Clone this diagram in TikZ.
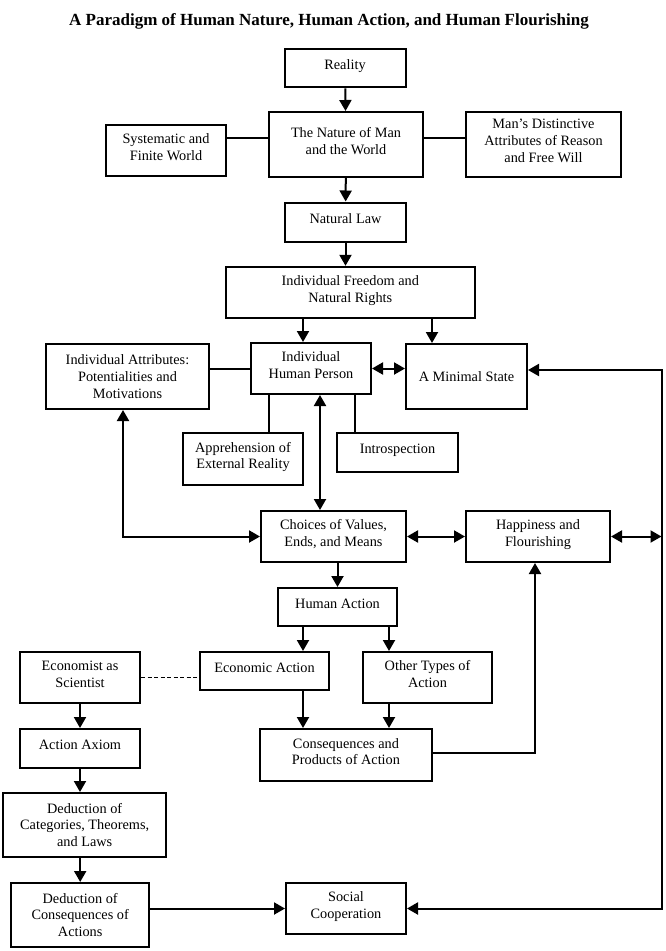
\documentclass[tikz,border=0pt]{standalone}
\usepackage{fontspec}
\setmainfont{Liberation Serif}
\usetikzlibrary{arrows.meta}
\begin{document}
\begin{tikzpicture}[x=1pt,y=-1pt,
  box/.style={draw, line width=2pt, align=center, inner sep=2pt,
    font=\fontsize{14.3}{16.8}\selectfont, text depth=7pt},
  cbox/.style={box, text depth=},
  conn/.style={line width=2pt},
  arr/.style={conn, -{Triangle[length=11pt,width=12pt]}},
  darr/.style={conn, {Triangle[length=11pt,width=12pt]}-{Triangle[length=11pt,width=12pt]}},
  dashline/.style={line width=1.6pt, dash pattern=on 4pt off 2.5pt}]
\useasboundingbox (0,0) rectangle (665,951);

\node[font=\fontsize{17}{20}\selectfont\bfseries] (title) at (329,21) {A Paradigm of Human Nature, Human Action, and Human Flourishing};

\node[box, minimum width=121pt, minimum height=38pt] (reality) at (345,68.3) {Reality};
\node[box, minimum width=154pt, minimum height=65pt] (nature) at (346,144.5) {The Nature of Man\\and the World};
\node[box, minimum width=120pt, minimum height=51pt] (sysworld) at (166,150.5) {Systematic and\\Finite World};
\node[box, minimum width=155pt, minimum height=65pt] (attrs) at (543.5,144.5) {Man’s Distinctive\\Attributes of Reason\\and Free Will};
\node[box, minimum width=121pt, minimum height=39pt] (natlaw) at (345.5,222) {Natural Law};
\node[box, minimum width=249.5pt, minimum height=51pt] (freedom) at (350.3,292.3) {Individual Freedom and\\Natural Rights};
\node[cbox, minimum width=163pt, minimum height=65pt] (indattr) at (127.5,376.5) {Individual Attributes:\\Potentialities and\\Motivations};
\node[box, minimum width=120pt, minimum height=51pt] (person) at (311,368.5) {Individual\\Human Person};
\node[cbox, minimum width=121pt, minimum height=65pt] (minstate) at (466.5,376.5) {A Minimal State};
\node[box, minimum width=120pt, minimum height=52pt] (appre) at (243,459) {Apprehension of\\External Reality};
\node[box, minimum width=121pt, minimum height=39pt] (intro) at (397.5,452.5) {Introspection};
\node[box, minimum width=145pt, minimum height=51pt] (choices) at (333.5,536.5) {Choices of Values,\\Ends, and Means};
\node[box, minimum width=144pt, minimum height=51pt] (happy) at (538,536.5) {Happiness and\\Flourishing};
\node[box, minimum width=119pt, minimum height=38pt] (humact) at (337.5,607) {Human Action};
\node[box, minimum width=120pt, minimum height=51pt] (econist) at (80,677.5) {Economist as\\Scientist};
\node[box, minimum width=129pt, minimum height=38pt] (econact) at (264.5,671) {Economic Action};
\node[box, minimum width=129pt, minimum height=51pt] (other) at (427.5,677.5) {Other Types of\\Action};
\node[box, minimum width=120pt, minimum height=39pt] (axiom) at (80,748.5) {Action Axiom};
\node[box, minimum width=172pt, minimum height=52pt] (conseq) at (346,755) {Consequences and\\Products of Action};
\node[cbox, minimum width=162.6pt, minimum height=64pt] (dedcat) at (84.7,825) {Deduction of\\Categories, Theorems,\\and Laws};
\node[cbox, minimum width=137.5pt, minimum height=64pt] (dedcons) at (80.2,915) {Deduction of\\Consequences of\\Actions};
\node[box, minimum width=120pt, minimum height=51pt] (social) at (346,908.5) {Social\\Cooperation};

\coordinate (rt) at (661.5,370);
\coordinate (rb) at (661.5,908.5);

% top
\draw[arr] (reality) -- (nature);
\draw[conn] ([yshift=12.5pt]sysworld.east) -- ([yshift=6.5pt]nature.west);
\draw[conn] ([yshift=6.5pt]nature.east) -- ([yshift=6.5pt]attrs.west);
\draw[arr] (nature) -- (natlaw);
\draw[arr] (natlaw.south) -- (natlaw.south |- freedom.north);
\draw[arr] ([xshift=-8pt]person.north |- freedom.south) -- ([xshift=-8pt]person.north);
\draw[arr] ([xshift=-34.5pt]minstate.north |- freedom.south) -- ([xshift=-34.5pt]minstate.north);
% person row
\draw[conn] (indattr.east |- person.west) -- (person.west);
\draw[darr] (person.east) -- (person.east -| minstate.west);
\draw[conn] ([xshift=26pt]appre.north) -- ([xshift=26pt]appre.north |- person.south);
\draw[conn] ([xshift=-42.5pt]intro.north) -- ([xshift=-42.5pt]intro.north |- person.south);
\draw[darr] ([xshift=-13.5pt]choices.north) -- ([xshift=-13.5pt]choices.north |- person.south);
\draw[darr] ([xshift=-4.5pt]indattr.south) |- (choices.west);
% choices row
\draw[darr] (choices.east) -- (happy.west);
\draw[darr] (happy.east) -- (happy.east -| rt);
\draw[darr] ([yshift=6.5pt]minstate.east) -- (rt) -- (rb) -- (social.east);
% action
\draw[arr] (humact.north |- choices.south) -- (humact.north);
\draw[arr] ([xshift=38.5pt]econact.north |- humact.south) -- ([xshift=38.5pt]econact.north);
\draw[arr] ([xshift=-38.5pt]other.north |- humact.south) -- ([xshift=-38.5pt]other.north);
\draw[dashline] (econist.east) -- (econist.east -| econact.west);
\draw[arr] ([xshift=38.5pt]econact.south) -- ([xshift=38.5pt]econact.south |- conseq.north);
\draw[arr] ([xshift=-38.5pt]other.south) -- ([xshift=-38.5pt]other.south |- conseq.north);
\draw[arr] ([yshift=2pt]conseq.east) -| ([xshift=-3pt]happy.south);
% left column
\draw[arr] (econist) -- (axiom);
\draw[arr] (axiom.south) -- (axiom.south |- dedcat.north);
\draw[arr] (dedcons.north |- dedcat.south) -- (dedcons.north);
\draw[arr] (social.west -| dedcons.east) -- (social.west);
\end{tikzpicture}
\end{document}
